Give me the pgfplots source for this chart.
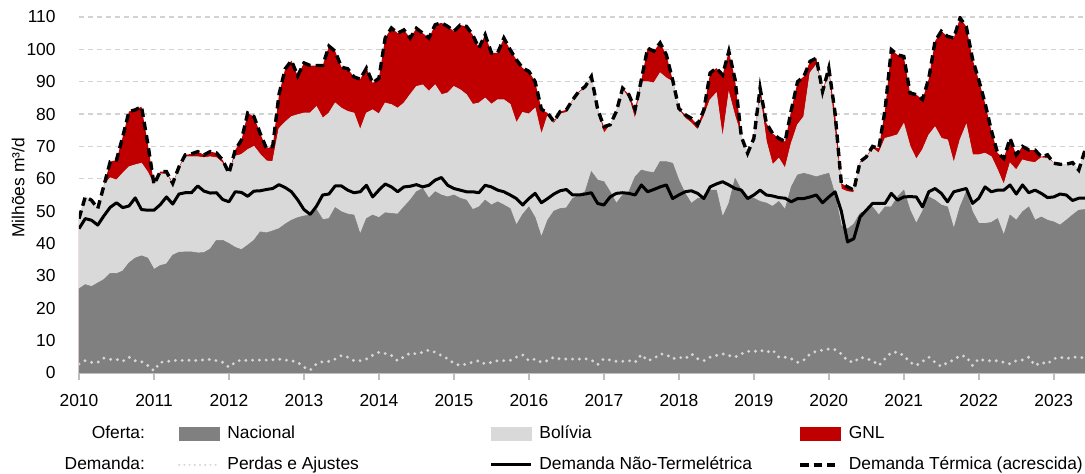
\documentclass[border=0pt]{standalone}
\usepackage{fontspec}
\setmainfont{Liberation Sans}
\usepackage{pgfplots}
\pgfplotsset{compat=1.18}
\usepackage{pgfplotstable}

\definecolor{natgray}{RGB}{128,128,128}
\definecolor{bolgray}{RGB}{217,217,217}
\definecolor{gnlred}{RGB}{192,0,0}
\definecolor{gridgray}{RGB}{210,210,210}
\definecolor{axgray}{RGB}{190,190,190}
\definecolor{dotgray}{RGB}{215,215,215}
\newcommand\chartfont{\fontsize{8.7}{10.4}\selectfont}

% m: month index (0 = Jan 2010); N = Nacional top, B = Nacional+Bolivia top, T = total (Demanda Termica acrescida)
% D = Demanda Nao-Termeletrica, P = Perdas e Ajustes
\pgfplotstableread{
m N B T D P
0 26 47.7 47.7 44.6 2.8
1 27.3 54.4 54.4 47.7 3.8
2 26.7 53.4 53.4 47.2 3.3
3 27.8 50.8 50.8 45.7 3.3
4 28.9 58 58 48.6 4.6
5 30.8 60.3 65.3 51.2 4.2
6 30.7 59.6 65.8 52.6 4.2
7 31.5 61.7 73 51.1 3.6
8 34 63.7 80.8 51.6 4.9
9 35.5 64.3 81.3 54.1 3.8
10 36.2 64.8 82.3 50.5 3.5
11 35.5 62 71 50.3 2.3
12 32 58 58.3 50.3 0.7
13 33.2 61.5 62.2 52 3.3
14 33.7 61.5 62.2 54.4 3.5
15 36.4 58 58.6 52.2 3.8
16 37.3 63 63.7 55.3 4
17 37.4 66.8 67.4 55.7 3.8
18 37.4 66.8 67.7 55.7 4
19 37.1 66.8 68.4 57.8 3.8
20 37.2 66.5 67.4 56.2 4.1
21 38.3 66.8 68.4 55.6 4.2
22 41 66.5 68 55.7 3.8
23 41 64.8 65.8 53.6 3.3
24 40 61.7 61.7 52.9 1.8
25 38.8 67 68.9 56 3.3
26 38.1 67.5 72 55.8 4.1
27 39.5 69 80.3 54.6 3.8
28 41 70 79.2 56.2 4
29 43.6 67.5 74 56.3 4
30 43.3 65.5 69.4 56.7 4
31 43.9 65.3 70 57 4.1
32 44.6 75.5 86 58.2 4.3
33 46 77.5 94 57.3 4
34 47.2 79.2 96.5 56 3.8
35 48 79.8 91.8 53.5 3.3
36 48.5 80.3 95.8 50.5 1.8
37 48.8 80.3 95 49 0.9
38 50.5 82.3 95 51.5 2.8
39 47.4 78.7 95 55 3.5
40 47.7 80.3 101 55.3 3.6
41 51.1 83.4 99.4 57.8 4.3
42 49.8 81.8 94.5 57.8 5.4
43 49.1 80.8 94 56.5 4.9
44 48.8 80.3 91.5 55.7 3.8
45 42.9 75.1 90.8 56 3.8
46 47.7 80.3 94.2 58 4.3
47 48.8 81.3 89.6 54.4 5.5
48 48 80 91.1 56.5 6.4
49 49.5 83.4 103.5 58.4 6
50 49.3 82.9 106.6 57.5 5.4
51 49.1 81.8 105 56 3.8
52 51.3 83.4 106 57.5 5
53 53.4 86 103.5 57.7 6.2
54 56 88.5 106.5 58.2 5.9
55 57 89 105 57.5 6.4
56 54 87 103.5 58 7.1
57 56 89 107.6 59.6 6.4
58 55 86 108.2 60.4 5.4
59 54.4 86.5 107.1 58 4.4
60 55 88.5 105.6 57 3
61 54 87.5 107.5 56.5 2.3
62 53.4 86 107.1 56 2.8
63 50.5 83 104.5 56 3.3
64 51.3 83.4 100.4 55.7 3.8
65 53.4 84.9 104.5 58 2.8
66 51.9 83 98.9 57.5 3.3
67 52.9 84.4 98.9 56.5 3.8
68 51.9 84.4 103.5 56 3.8
69 50.8 83 99.9 55 3.9
70 45.7 77.2 96.8 53.9 4.9
71 49 80.5 94.2 51.9 5.6
72 51.3 80 93.2 53.9 3.8
73 48 81.8 90 55.5 4.3
74 42 73.6 81.5 52.6 3.3
75 47.2 79.5 80.3 53.9 3.8
76 50 77 77.7 55.3 4.9
77 50.8 80 80.8 56.3 4.3
78 51 80.5 81.3 56.7 4.3
79 53.9 84 84.4 55 4.3
80 55 86.5 87 55 4.3
81 56 88 88.5 55.3 4.4
82 62.2 91.3 91.6 55.7 4
83 59.6 81.3 81.5 52.4 2.6
84 59.1 74 76.1 51.9 4.4
85 56 76.5 76.7 54.4 4
86 52.4 80.3 80.8 55.5 3.6
87 55 87.5 88 55.7 3.6
88 56 84.9 86 55.5 3.8
89 60.6 78.2 81.5 55 3.3
90 62.7 90 90.6 58.1 5.7
91 62.2 90 100.4 56 3.8
92 61.9 89.6 99.4 56.7 4.4
93 65.3 92.7 102 57.5 5.9
94 65.3 91.1 98.3 58.1 5.7
95 64.8 90 90.6 53.9 4.4
96 59.6 81.3 81.8 55 4.9
97 55.5 78.7 79.8 56 4.4
98 52.4 77.2 78.7 56.3 5.9
99 53.9 75.1 76.7 55.5 4.4
100 54.4 79.2 81.3 53.9 3.8
101 56.5 84.4 92.7 57.5 4.9
102 56.5 86.5 94.2 58.4 5.4
103 48.2 72.5 92.1 59.1 5.9
104 52.4 86.5 99.4 58.1 5.4
105 60.1 79.2 90.6 57 4.9
106 56.5 73 73 56.5 5.9
107 54.4 67.9 67.9 53.9 6.7
108 54 72.5 72.5 55 6.6
109 53 85.4 88 56.5 7.1
110 52.5 71.5 77.2 55 6.4
111 51.5 64.3 74 54.7 7.1
112 53 66.3 72.5 54.2 4.9
113 50.5 63.2 71.5 54 4.9
114 57.5 71 81.3 52.9 4.4
115 61.2 76.7 90 53.9 3.3
116 61.7 79.2 91.6 53.9 4
117 61.2 92.7 96.3 54.4 5.9
118 60.6 95.2 97.3 55 6.7
119 61.2 86.5 87 52.6 7.1
120 61.7 92.1 94.2 54.4 7.4
121 55 74 80.3 56 7.2
122 45.5 56.8 58.6 50 5.9
123 44.5 56 57.5 40.5 3.8
124 46 55.8 56.5 41.5 3.3
125 49.3 64.8 65.3 48.2 4.9
126 50.3 66.3 66.8 50.3 4.4
127 51.3 69.4 70 52.4 3.8
128 48.8 67.9 69.4 52.4 2.3
129 51.3 72.5 81.3 52.4 4.4
130 51.3 73 99.9 55.5 6.4
131 54.4 73.6 98.3 53.4 6.4
132 56.5 77 97.8 54.4 5.4
133 50.3 70 86.5 54.5 3.3
134 46.2 66 86 54.4 2.3
135 50 69 84.5 51.3 3.6
136 54.4 73.5 91 56 4.9
137 53.4 76 102.5 57 3.3
138 51.9 72.5 105.6 55.5 2
139 51.3 72 104 52.9 3.3
140 44.6 64.8 103.5 56 4
141 51.3 72 109.7 56.5 5.4
142 56 76.7 107 57 5.1
143 49.8 67.4 97 52.4 2.3
144 46.2 67.4 90.5 54 4.4
145 46.2 67.9 83.4 57.5 3.8
146 46.5 66.8 75 56 3.8
147 47.7 62.7 68 56.5 3.8
148 42.6 58.1 66.3 56.5 3.3
149 48.8 64.8 72.5 58.1 2.8
150 47.2 62.7 67.4 55.3 3.8
151 49.8 65.8 70 58.1 4
152 51.3 65.3 68.9 55.7 4.9
153 47.2 65 68.9 56.5 2.3
154 48.2 66.5 66.8 55.5 3.3
155 47.2 66.3 67.4 54.2 2.8
156 46.7 64.8 64.8 54.4 4.4
157 45.7 64.3 64.5 55.3 4.9
158 47.2 64.5 64.5 55 4.4
159 48.8 65 65 53.3 4.9
160 50.3 62.7 62.7 54 4.9
161 50.5 68.5 68.9 54 4.6
}\datatable

\begin{document}
\begin{tikzpicture}
\useasboundingbox (-39.5pt,-50.5pt) rectangle (503pt,186.5pt);
\begin{axis}[
  at={(0,0)}, anchor=south west,
  scale only axis, width=503pt, height=178pt,
  xmin=0, xmax=161, ymin=0, ymax=110,
  axis x line*=bottom, axis y line*=left,
  x axis line style={draw=axgray, line width=0.8pt, -},
  y axis line style={draw=none},
  xtick={0,12,...,156},
  xticklabels={2010,2011,2012,2013,2014,2015,2016,2017,2018,2019,2020,2021,2022,2023},
  ytick={0,10,...,110},
  xtick style={draw=axgray, line width=0.8pt},
  ytick style={draw=none},
  tick align=outside,
  major tick length=3.5pt,
  ymajorgrids,
  major grid style={draw=gridgray, line width=0.6pt, dash pattern=on 2.5pt off 2pt},
  tick label style={font=\chartfont},
  /pgf/number format/assume math mode=true,
  xticklabel style={inner sep=0pt, anchor=north, yshift=-7pt},
  yticklabel style={inner sep=0pt, anchor=east, xshift=-8pt},
  ylabel={Milhões m³/d},
  ylabel style={font=\chartfont, at={(axis description cs:-0.0606,0.52)}, anchor=center},
  legend columns=4,
  legend cell align=left,
  legend style={at={(axis description cs:0,0)}, anchor=north west, xshift=-12pt, yshift=-26.4pt,
    draw=none, fill=none, inner sep=0pt, outer sep=0pt, font=\chartfont,
    column sep=0pt, row sep=7.4pt,
    /tikz/every odd column/.append style={column sep=3.5pt},
    nodes={inner sep=0pt, text height=6.3pt, text depth=1.8pt}},
]
\addplot[fill=gnlred, draw=none, forget plot] table[x=m, y=T] {\datatable} \closedcycle;
\addplot[fill=bolgray, draw=bolgray, line width=0.4pt, forget plot] table[x=m, y=B] {\datatable} \closedcycle;
\addplot[fill=natgray, draw=natgray, line width=0.3pt, forget plot] table[x=m, y=N] {\datatable} \closedcycle;
\addplot[dotgray, line width=1.6pt, dash pattern=on 0pt off 3.4pt, line cap=round, forget plot] table[x=m, y=P] {\datatable};
\addplot[black, line width=1.5pt, line join=round, forget plot] table[x=m, y=D] {\datatable};
\addplot[black, line width=1.7pt, dash pattern=on 4.2pt off 2.5pt, forget plot] table[x=m, y=T] {\datatable};

\addlegendimage{empty legend}\addlegendentry{\makebox[58pt][r]{Oferta:\hspace{16.5pt}}}
\addlegendimage{legend image code/.code={\fill[natgray] (0pt,-3.25pt) rectangle (20pt,3.25pt);}}\addlegendentry{\makebox[131pt][l]{Nacional}}
\addlegendimage{legend image code/.code={\fill[bolgray] (0pt,-3.25pt) rectangle (20pt,3.25pt);}}\addlegendentry{\makebox[129.5pt][l]{Bolívia}}
\addlegendimage{legend image code/.code={\fill[gnlred] (0pt,-3.25pt) rectangle (20pt,3.25pt);}}\addlegendentry{GNL}
\addlegendimage{empty legend}\addlegendentry{\makebox[58pt][r]{Demanda:\hspace{16.5pt}}}
\addlegendimage{legend image code/.code={\draw[dotgray, line width=1.2pt, dash pattern=on 0pt off 2.6pt, line cap=round] (0pt,0pt) -- (20pt,0pt);}}\addlegendentry{\makebox[131pt][l]{Perdas e Ajustes}}
\addlegendimage{legend image code/.code={\draw[black, line width=1.5pt] (0pt,0pt) -- (20pt,0pt);}}\addlegendentry{\makebox[129.5pt][l]{Demanda Não-Termelétrica}}
\addlegendimage{legend image code/.code={\draw[black, line width=1.7pt, dash pattern=on 4.2pt off 2.5pt] (0pt,0pt) -- (20pt,0pt);}}\addlegendentry{Demanda Térmica (acrescida)}
\end{axis}
\end{tikzpicture}
\end{document}
